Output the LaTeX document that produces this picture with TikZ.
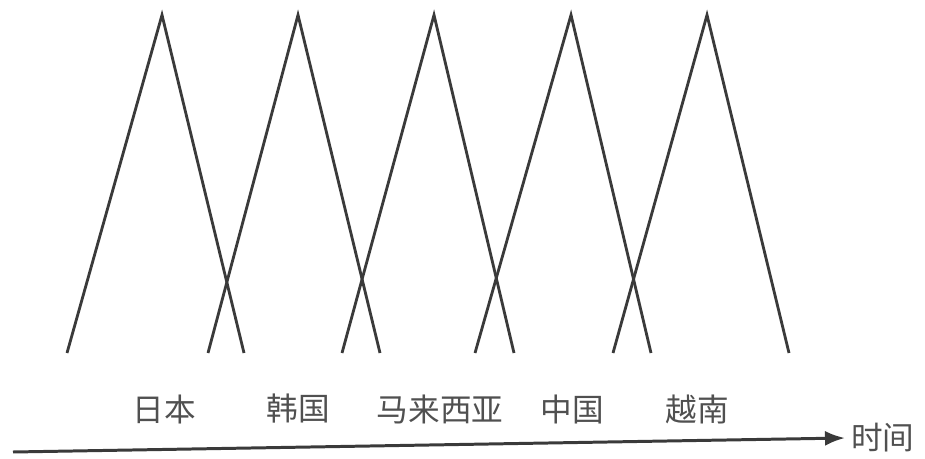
\documentclass[tikz,border=0pt]{standalone}
\usepackage{fontspec}
\newfontfamily\cjk{Noto Sans CJK SC}
\usetikzlibrary{arrows.meta, positioning}

\definecolor{linegray}{HTML}{3a3a3a}
\definecolor{textgray}{HTML}{505050}

\begin{document}
\begin{tikzpicture}[x=0.02cm, y=-0.02cm, >={Latex[length=0.4cm, width=0.3cm]},
    peak/.style={draw=linegray, line width=1.6pt, line join=miter},
    country/.style={text=textgray, font=\cjk\fontsize{18}{20}\selectfont},
    axis/.style={draw=linegray, line width=1.7pt, ->}]
        \useasboundingbox (0,0) rectangle (925,459);

        % Peaks
        \foreach \n/\l/\p/\r in {1/67/162/244, 2/208/298/380, 3/342/434/514, 4/475/571/651, 5/613/707/789} {
            \coordinate (L\n) at (\l,353);
            \coordinate (P\n) at (\p,15);
            \coordinate (R\n) at (\r,353);
            \draw[peak] (L\n) -- (P\n) -- (R\n);
        }

        % Labels
        \node[country] (japan) at (164,409) {日本};
        \node[country] (korea) at (298,409) {韩国};
        \node[country] (malaysia) at (440,409) {马来西亚};
        \node[country] (china) at (572,409) {中国};
        \node[country] (vietnam) at (697,409) {越南};

        % Time axis
        \coordinate (start) at (13,452);
        \node[country, anchor=west] (time) at (845,438) {时间};
        \draw[axis] (start) -- (time.west);
\end{tikzpicture}
\end{document}
